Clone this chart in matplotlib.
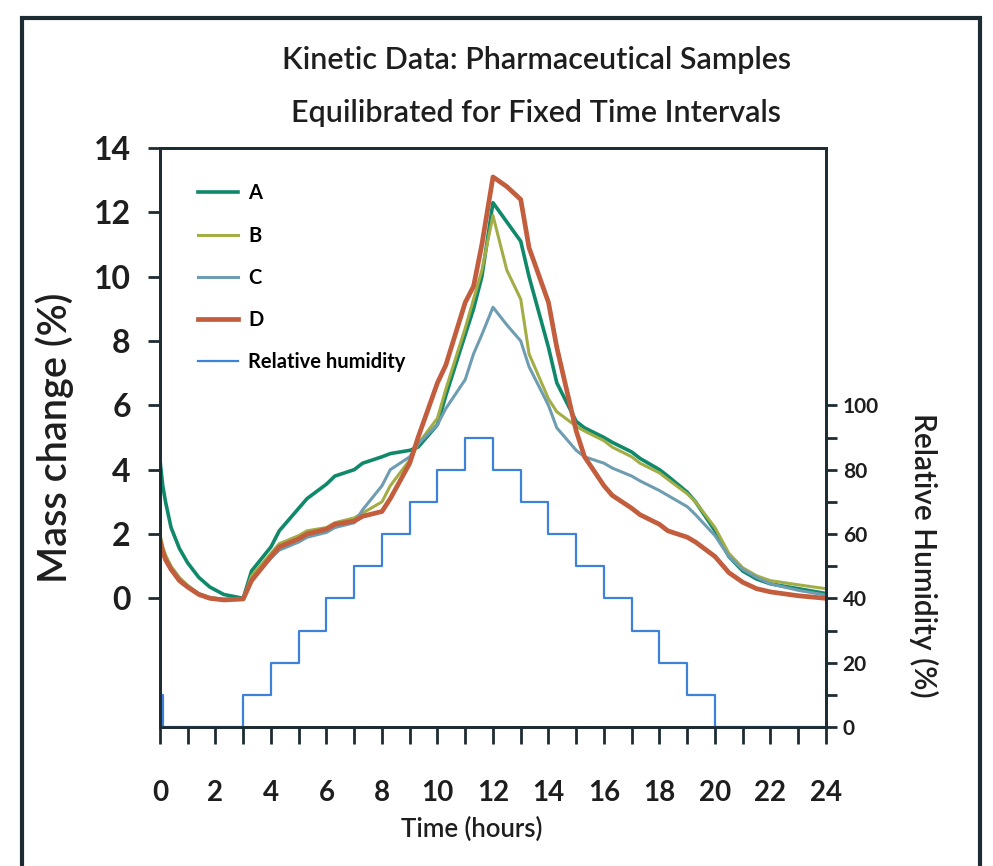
import matplotlib
matplotlib.use("Agg")
import matplotlib.pyplot as plt
from matplotlib.patches import Rectangle
from matplotlib.ticker import MultipleLocator

plt.rcParams['font.family'] = ['Lato', 'DejaVu Sans']
plt.rcParams['font.weight'] = 'bold'

# time axis shared by the four samples (hours)
hours = [0, 0.1, 0.2, 0.4, 0.7, 1.0, 1.4, 1.8, 2.3, 3.0,
         3.3, 4, 4.3, 5, 5.3, 6, 6.3, 7, 7.3, 8, 8.3, 9, 9.3, 10, 10.3, 11, 11.3,
         11.6, 12, 12.5,
         13, 13.3, 14, 14.3, 15, 15.3, 16, 16.3, 17, 17.3, 18, 18.3, 19, 19.3,
         20, 20.5, 21, 21.5, 22, 23, 24]

mass_a = [4.3, 3.5, 3.0, 2.2, 1.55, 1.1, 0.65, 0.35, 0.12, 0.0,
          0.85, 1.6, 2.1, 2.8, 3.1, 3.55, 3.8, 4.0, 4.2, 4.4, 4.5, 4.6, 4.7, 5.4, 6.3, 8.2, 9.0,
          10.0, 12.3, 11.7,
          11.1, 10.0, 7.8, 6.7, 5.5, 5.3, 5.0, 4.85, 4.55, 4.35, 4.0, 3.8, 3.3, 3.0,
          2.1, 1.3, 0.85, 0.6, 0.45, 0.3, 0.15]
mass_b = [2.0, 1.6, 1.35, 1.0, 0.65, 0.4, 0.15, 0.03, -0.03, -0.02,
          0.7, 1.4, 1.7, 1.95, 2.1, 2.2, 2.35, 2.5, 2.65, 3.0, 3.5, 4.3, 4.8, 5.6, 6.5, 8.4, 9.3,
          10.2, 11.9, 10.2,
          9.3, 7.6, 6.2, 5.8, 5.35, 5.2, 4.9, 4.7, 4.4, 4.2, 3.9, 3.7, 3.25, 3.0,
          2.2, 1.4, 0.95, 0.7, 0.55, 0.42, 0.3]
mass_c = [1.9, 1.5, 1.25, 0.95, 0.6, 0.38, 0.14, 0.02, -0.03, -0.02,
          0.6, 1.25, 1.5, 1.75, 1.9, 2.05, 2.2, 2.35, 2.75, 3.5, 4.0, 4.4, 4.8, 5.4, 5.9, 6.8, 7.6,
          8.2, 9.05, 8.5,
          8.0, 7.2, 6.0, 5.3, 4.6, 4.4, 4.2, 4.05, 3.8, 3.65, 3.35, 3.2, 2.85, 2.6,
          1.95, 1.3, 0.9, 0.65, 0.45, 0.25, 0.1]
mass_d = [1.8, 1.45, 1.2, 0.9, 0.55, 0.35, 0.12, 0.0, -0.05, -0.02,
          0.55, 1.3, 1.6, 1.85, 2.0, 2.15, 2.3, 2.4, 2.55, 2.7, 3.1, 4.2, 5.0, 6.7, 7.25, 9.2, 9.7,
          11.0, 13.1, 12.8,
          12.4, 10.9, 9.2, 7.8, 5.2, 4.4, 3.5, 3.2, 2.8, 2.6, 2.3, 2.1, 1.9, 1.75,
          1.3, 0.8, 0.5, 0.3, 0.2, 0.08, 0.0]

# relative humidity program (step changes)
rh_hours = [0, 0.12, 3, 4, 5, 6, 7, 8, 9, 10, 11, 12, 13, 14, 15, 16, 17, 18, 19, 20, 24]
rh_values = [10, 0, 10, 20, 30, 40, 50, 60, 70, 80, 90, 80, 70, 60, 50, 40, 30, 20, 10, 0, 0]

dark = '#1d2c33'
txt = '#1e1e1e'

fig = plt.figure(figsize=(9.93, 8.66), dpi=100)
ax = fig.add_axes([0.1611, 0.1605, 0.6707, 0.6686])
ax2 = ax.twinx()

la, = ax.plot(hours, mass_a, color='#10886a', lw=2.6, label='A')
lb, = ax.plot(hours, mass_b, color='#a3ad45', lw=2.2, label='B')
lc, = ax.plot(hours, mass_c, color='#6e9db2', lw=2.2, label='C')
ld, = ax.plot(hours, mass_d, color='#c25d3d', lw=3.4, label='D')
lr, = ax2.step(rh_hours, rh_values, where='post', color='#3d82d8', lw=1.6,
               label='Relative humidity')

ax.set_xlim(0, 24)
ax.set_ylim(-4, 14)
ax2.set_ylim(0, 180)

ax.set_yticks(range(0, 15, 2))
ax.xaxis.set_major_locator(MultipleLocator(2))
ax.xaxis.set_minor_locator(MultipleLocator(1))
ax2.set_yticks(range(0, 101, 20))
ax2.set_yticks([v for v in range(10, 100, 20)], minor=True)

ax.tick_params(axis='y', direction='out', length=9, width=2, color=dark,
               labelsize=23, pad=12, labelcolor=txt)
ax.tick_params(axis='x', which='both', direction='out', length=12, width=2,
               color=dark, labelsize=20, pad=26, labelcolor=txt)
ax2.tick_params(axis='y', which='both', direction='out', length=8, width=2,
                color=dark, labelsize=15, pad=4, labelcolor=txt)
for lbl in ax.get_xticklabels() + ax.get_yticklabels() + ax2.get_yticklabels():
    lbl.set_fontweight('bold')

for a in (ax, ax2):
    for s in a.spines.values():
        s.set_color(dark)
        s.set_linewidth(2)

ax.set_xlabel('Time (hours)', fontsize=18.5, color=txt, fontweight='semibold')
ax.xaxis.set_label_coords(0.468, -0.155)
ax.set_ylabel('Mass change (%)', fontsize=28.5, color=txt, va='center',
              fontweight='semibold')
ax.yaxis.set_label_coords(-0.158, 0.5)
ax2.set_ylabel('Relative Humidity (%)', fontsize=21.5, color=txt, rotation=270,
               va='center', fontweight='semibold')
ax2.yaxis.set_label_coords(1.147, 0.297)

fig.text(0.54, 0.931, 'Kinetic Data: Pharmaceutical Samples', ha='center',
         va='center', fontsize=22, color=txt, fontweight='semibold')
fig.text(0.54, 0.870, 'Equilibrated for Fixed Time Intervals', ha='center',
         va='center', fontsize=22, color=txt, fontweight='semibold')

ax2.legend(handles=[la, lb, lc, ld, lr], loc='upper left',
           bbox_to_anchor=(0.03, 0.97), frameon=False, fontsize=14.5,
           handlelength=2.0, labelspacing=1.1, handletextpad=0.5)

fig.add_artist(Rectangle((0.022, -0.1), 0.965, 1.079, transform=fig.transFigure,
                         fill=False, lw=3, edgecolor=dark))

fig.savefig('out.png', dpi=100)
